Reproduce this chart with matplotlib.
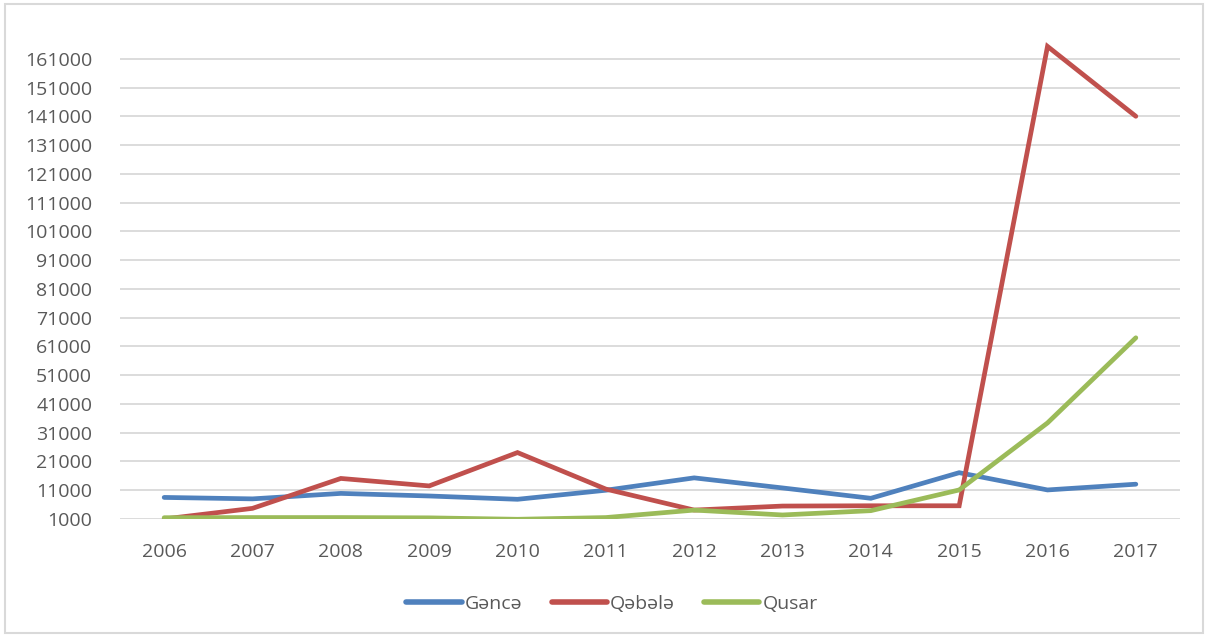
import matplotlib
matplotlib.use("Agg")
import matplotlib.pyplot as plt
from matplotlib.patches import Rectangle

years = ["2006", "2007", "2008", "2009", "2010", "2011", "2012", "2013", "2014", "2015", "2016", "2017"]
gence = [8500, 8000, 9900, 9000, 7850, 11000, 15300, 11800, 8200, 17100, 11100, 13100]
qebele = [1000, 4700, 15100, 12500, 24100, 11400, 4100, 5500, 5600, 5600, 165300, 141000]
qusar = [1450, 1500, 1500, 1400, 900, 1500, 4100, 2400, 3900, 11100, 34400, 64000]
series_names = ["Gəncə", "Qəbələ", "Qusar"]
yticks = list(range(1000, 161001, 10000))

colors = ["#4F81BD", "#C0504D", "#9BBB59"]
textc = "#595959"
font = "Open Sans"

W, H = 1208, 638
fig = plt.figure(figsize=(W / 100, H / 100), dpi=100)
ax = fig.add_axes([120 / W, 1 - 519 / H, (1180 - 120) / W, (519 - 30) / H])

x = list(range(len(years)))
for vals, name, c in zip([gence, qebele, qusar], series_names, colors):
    ax.plot(x, vals, color=c, lw=3.4, label=name, solid_capstyle="round", solid_joinstyle="miter")

ax.set_xlim(-0.5, len(years) - 0.5)
ax.set_ylim(1000, 171000)
ax.set_yticks(yticks)
ax.set_yticklabels([str(v) for v in yticks], fontsize=14, color=textc, family=font)
ax.set_xticks(x)
ax.set_xticklabels(years, fontsize=14, color=textc, family=font)
ax.tick_params(axis="both", length=0)
ax.tick_params(axis="y", pad=20)
ax.tick_params(axis="x", pad=17)
ax.grid(axis="y", color="#D9D9D9", lw=1.3)
ax.set_axisbelow(True)
for s in ax.spines.values():
    s.set_visible(False)

leg = fig.legend(loc="center", bbox_to_anchor=(612 / W, 1 - 604 / H), ncol=3, frameon=False,
                 prop={"family": font, "size": 14}, handlelength=2.85, columnspacing=1.5,
                 handletextpad=0.15)
for t in leg.get_texts():
    t.set_color(textc)
for l in leg.get_lines():
    l.set_linewidth(4)

fig.patches.append(Rectangle((5 / W, 1 - 633 / H), (1203 - 5) / W, (633 - 4) / H,
                             transform=fig.transFigure, fill=False, ec="#D9D9D9", lw=1.5))

fig.savefig("out.png", dpi=100)
